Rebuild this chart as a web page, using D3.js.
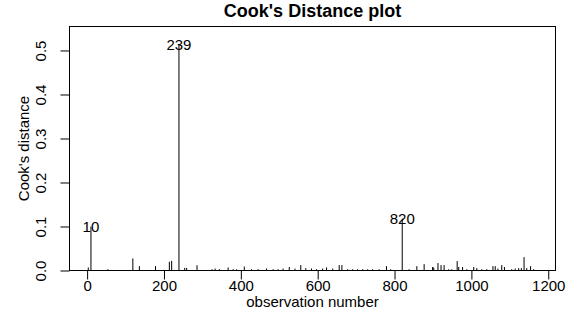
<!DOCTYPE html>
<html><head><meta charset="utf-8">
<script src="https://cdn.jsdelivr.net/npm/d3@7"></script>
<style>body{margin:0;background:#fff}svg{display:block}text{font-family:"Liberation Sans",Arial,sans-serif;fill:#000}</style>
</head><body><svg id="c" width="579" height="330"></svg>
<script>
// ---- data ----
const nObs = 1172;
const spikeObs = [3,10,54,119,136,178,214,220,239,254,259,286,
  325,333,344,367,380,389,409,428,445,467,484,497,510,526,541,556,569,584,597,
  613,623,639,656,663,678,691,704,717,730,743,760,779,790,820,838,858,877,899,
  902,913,921,929,941,949,963,967,977,988,1006,1014,1027,1040,1056,1062,1069,1079,1086,
  1105,1114,1123,1130,1137,1144,1154,1162];
const spikeVal = [0.006,0.099,0.002,0.0265,0.009,0.009,0.019,0.021,0.514,0.005,0.005,0.011,
  0.002,0.0035,0.002,0.006,0.002,0.002,0.008,0.002,0.002,0.0035,0.002,0.002,0.0035,0.007,0.0035,0.0114,0.0045,0.0035,0.002,
  0.0035,0.006,0.0035,0.0114,0.0114,0.002,0.002,0.002,0.002,0.002,0.002,0.002,0.009,0.002,0.117,0.002,0.009,0.0136,0.007,
  0.006,0.016,0.0114,0.0114,0.002,0.002,0.0205,0.007,0.007,0.002,0.007,0.0045,0.002,0.002,0.009,0.009,0.0035,0.0114,0.007,
  0.002,0.0035,0.0045,0.0045,0.0295,0.0045,0.009,0.002];
const labelObs = [10, 239, 820];
const xTicks = [0, 200, 400, 600, 800, 1000, 1200];
const yTicks = [0, 0.1, 0.2, 0.3, 0.4, 0.5];
const titleText = "Cook's Distance plot";
const xLabel = "observation number";
const yLabel = "Cook's distance";

// ---- layout ----
const L = 69.5, R = 555.5, T = 26.5, B = 270.5;
const yTop = 0.5545;
const svg = d3.select("#c");
const valMap = new Map(spikeObs.map((o, i) => [o, spikeVal[i]]));
const obs = d3.range(1, nObs + 1);
const pad = (nObs - 1) * 0.04;
const x = d3.scaleLinear().domain([1 - pad, nObs + pad]).range([L, R]);
const y = d3.scaleLinear().domain([0, yTop]).range([B, T]);

// spikes
svg.append("g").selectAll("line").data(obs).join("line")
  .attr("x1", d => x(d)).attr("x2", d => x(d))
  .attr("y1", y(0)).attr("y2", d => y(valMap.get(d) || 0))
  .attr("stroke", "#000").attr("stroke-width", 1).attr("stroke-linecap", "round");

// box
svg.append("rect").attr("x", L).attr("y", T).attr("width", R - L).attr("height", B - T)
  .attr("fill", "none").attr("stroke", "#000").attr("stroke-width", 1);

// x axis
const xa = svg.append("g").attr("transform", `translate(0,${B})`)
  .call(d3.axisBottom(x).tickValues(xTicks).tickSize(9).tickPadding(2).tickFormat(d3.format("d")));
xa.select(".domain").attr("d", `M${x(xTicks[0])},0H${x(xTicks[xTicks.length-1])}`);
xa.selectAll("text").attr("font-size", 15).attr("dy", null).attr("y", 20.5).attr("font-family", '"Liberation Sans",Arial,sans-serif');

// y axis
const ya = svg.append("g").attr("transform", `translate(${L},0)`)
  .call(d3.axisLeft(y).tickValues(yTicks).tickSize(9).tickFormat(d3.format(".1f")));
ya.select(".domain").attr("d", `M0,${y(yTicks[0])}V${y(yTicks[yTicks.length-1])}`);
ya.selectAll("text").attr("font-size", 15).attr("font-family", '"Liberation Sans",Arial,sans-serif')
  .attr("x", null).attr("dy", null).attr("text-anchor", "middle")
  .attr("transform", `translate(${45.5 - L},0) rotate(-90)`);

// point labels
svg.append("g").selectAll("text").data(labelObs).join("text")
  .attr("x", d => x(d)).attr("y", d => y(valMap.get(d)) + 5.4)
  .attr("text-anchor", "middle").attr("font-size", 15).text(d => d);

// titles
svg.append("text").attr("x", (L + R) / 2).attr("y", 16.5).attr("text-anchor", "middle")
  .attr("font-size", 18).attr("font-weight", "bold").text(titleText);
svg.append("text").attr("x", (L + R) / 2).attr("y", 307).attr("text-anchor", "middle")
  .attr("font-size", 15).text(xLabel);
svg.append("text").attr("transform", `translate(28.5,${(T + B) / 2}) rotate(-90)`)
  .attr("text-anchor", "middle").attr("font-size", 15).text(yLabel);
</script></body></html>
